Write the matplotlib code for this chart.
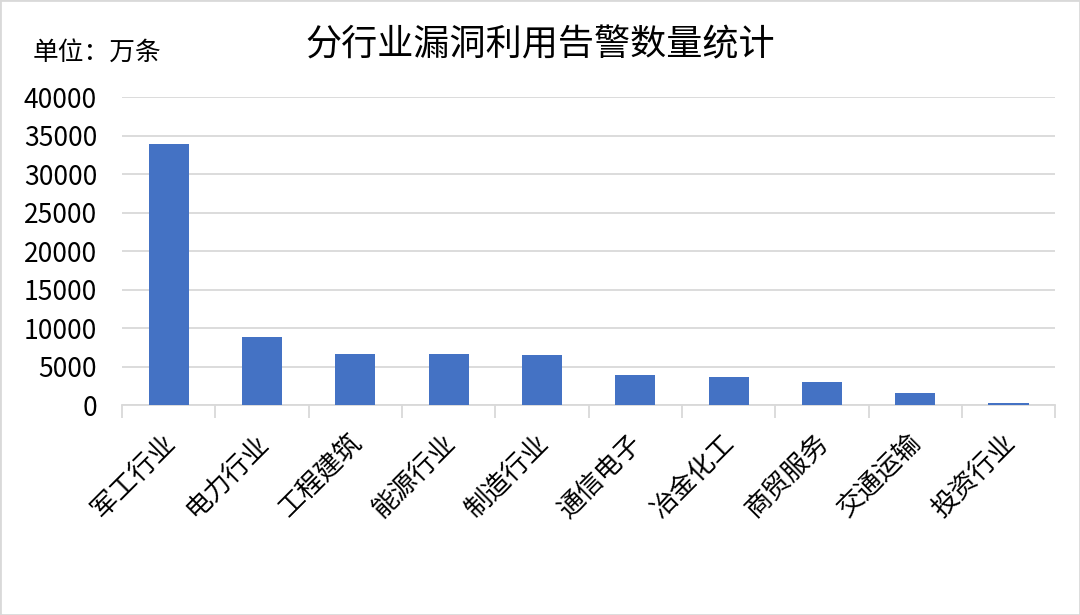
import matplotlib.pyplot as plt
import matplotlib.transforms as mtransforms
import numpy as np
from matplotlib.patches import Rectangle

plt.rcParams['font.family'] = ['Noto Sans CJK SC', 'DejaVu Sans']

# 数据
industries = ['军工行业', '电力行业', '工程建筑', '能源行业', '制造行业',
              '通信电子', '冶金化工', '商贸服务', '交通运输', '投资行业']
alerts = [33860, 8920, 6710, 6700, 6490, 3980, 3680, 3070, 1560, 300]
yticks = [0, 5000, 10000, 15000, 20000, 25000, 30000, 35000, 40000]

fig = plt.figure(figsize=(10.8, 6.15), dpi=100)
ax = fig.add_axes([0.113, 0.341, 0.864, 0.501])

x = np.arange(len(industries))
ax.bar(x, alerts, width=0.43, color='#4472C4', zorder=3)

ax.set_xlim(-0.5, len(industries) - 0.5)
ax.set_ylim(0, 40000)
ax.set_yticks(yticks)
ax.set_yticklabels([str(v) for v in yticks], fontsize=19)
ax.grid(axis='y', color='#d9d9d9', linewidth=1.3, zorder=0)

ax.set_xticks(x)
ax.set_xticklabels(industries, rotation=45, ha='right', rotation_mode='anchor', fontsize=19)
ax.set_xticks(np.arange(-0.5, len(industries)), minor=True)
ax.tick_params(axis='x', which='major', length=0, pad=17)
ax.tick_params(axis='x', which='minor', length=9, width=1.3, color='#d9d9d9')
ax.tick_params(axis='y', length=0, pad=18)

# 标签略微左移
shift = mtransforms.ScaledTranslation(-0.07, 0, fig.dpi_scale_trans)
for lbl in ax.get_xticklabels():
    lbl.set_transform(lbl.get_transform() + shift)

for s in ['top', 'right', 'left']:
    ax.spines[s].set_visible(False)
ax.spines['bottom'].set_color('#d9d9d9')
ax.spines['bottom'].set_linewidth(1.3)

fig.text(0.5, 0.927, '分行业漏洞利用告警数量统计', ha='center', va='center', fontsize=26)
fig.text(0.03, 0.915, '单位：万条', ha='left', va='center', fontsize=18.5)

fig.patches.append(Rectangle((0, 0), 1, 1, transform=fig.transFigure, fill=False,
                             edgecolor='#d9d9d9', linewidth=2))

fig.savefig('out.png', dpi=100)
